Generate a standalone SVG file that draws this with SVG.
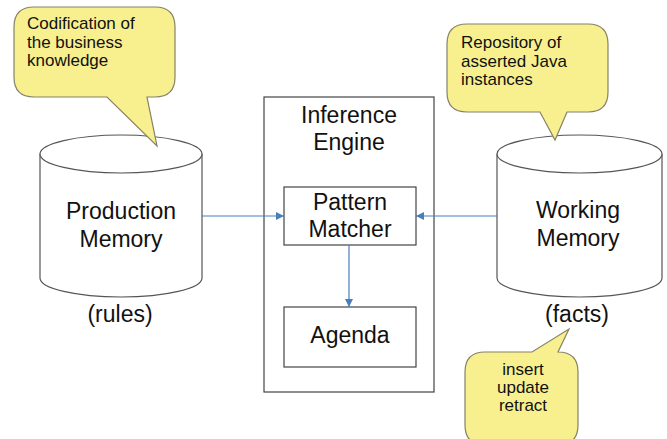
<svg xmlns="http://www.w3.org/2000/svg" width="667" height="439" viewBox="0 0 667 439">
<defs>
<style>
.t{font-family:"Liberation Sans",Arial,sans-serif;fill:#111}
.big{font-size:23px}
.sm{font-size:17px}
.mid{text-anchor:middle}
.callout{fill:#f8f08e;stroke:#85826a;stroke-width:1.2}
.cyl{fill:#fff;stroke:#555;stroke-width:1.2}
.box{fill:#fff;stroke:#444;stroke-width:1.2}
.conn{stroke:#4a7ebb;stroke-width:1.2;fill:none;marker-end:url(#ah)}
</style>
<marker id="ah" viewBox="0 0 10 10" refX="10" refY="5" markerWidth="8" markerHeight="8" markerUnits="userSpaceOnUse" orient="auto">
<path d="M0,0 L10,5 L0,10 Z" fill="#4a7ebb"/>
</marker>
</defs>
<rect width="667" height="439" fill="#fff"/>

<g id="production-memory">
<path class="cyl" d="M40,154 V278 A81,19 0 0 0 202,278 V154"/>
<ellipse class="cyl" cx="121" cy="154" rx="81" ry="19"/>
<text class="t big mid" x="121" y="219">Production</text>
<text class="t big mid" x="121" y="247">Memory</text>
<text class="t big mid" x="120" y="322">(rules)</text>
</g>

<g id="working-memory">
<path class="cyl" d="M497,154 V278 A82.5,19 0 0 0 662,278 V154"/>
<ellipse class="cyl" cx="579.5" cy="154" rx="82.5" ry="19"/>
<text class="t big mid" x="578" y="218">Working</text>
<text class="t big mid" x="578" y="246">Memory</text>
<text class="t big mid" x="577" y="322">(facts)</text>
</g>

<g id="inference-engine">
<rect class="box" x="264" y="97" width="170" height="295"/>
<text class="t big mid" x="349" y="123">Inference</text>
<text class="t big mid" x="349" y="150">Engine</text>
</g>

<g id="pattern-matcher">
<rect class="box" x="284" y="187" width="132" height="58"/>
<text class="t big mid" x="350" y="210">Pattern</text>
<text class="t big mid" x="350" y="237">Matcher</text>
</g>

<g id="agenda">
<rect class="box" x="284" y="307" width="132" height="60"/>
<text class="t big mid" x="350" y="343">Agenda</text>
</g>

<g id="callout-rules">
<path class="callout" d="M34,7 H155 Q175,7 175,27 V77 Q175,97 155,97 H147 L157,146 L107,97 H34 Q14,97 14,77 V27 Q14,7 34,7 Z"/>
<text class="t sm" x="27" y="29">Codification of</text>
<text class="t sm" x="27" y="48">the business</text>
<text class="t sm" x="27" y="66">knowledge</text>
</g>

<g id="callout-facts">
<path class="callout" d="M467,24 H588 Q608,24 608,44 V92 Q608,112 588,112 H567 L555,140 L540,112 H467 Q447,112 447,92 V44 Q447,24 467,24 Z"/>
<text class="t sm" x="461" y="48">Repository of</text>
<text class="t sm" x="461" y="67">asserted Java</text>
<text class="t sm" x="461" y="85">instances</text>
</g>

<g id="callout-actions">
<path class="callout" d="M485,352 H532 L569,329 L558,352 Q578,352 578,372 V425 Q578,445 558,445 H485 Q465,445 465,425 V372 Q465,352 485,352 Z"/>
<text class="t sm mid" x="523" y="375">insert</text>
<text class="t sm mid" x="523" y="393">update</text>
<text class="t sm mid" x="523" y="411">retract</text>
</g>

<g id="connectors">
<line class="conn" x1="202" y1="216" x2="284" y2="216"/>
<line class="conn" x1="497" y1="216" x2="416" y2="216"/>
<line class="conn" x1="349" y1="245" x2="349" y2="307"/>
</g>
</svg>
